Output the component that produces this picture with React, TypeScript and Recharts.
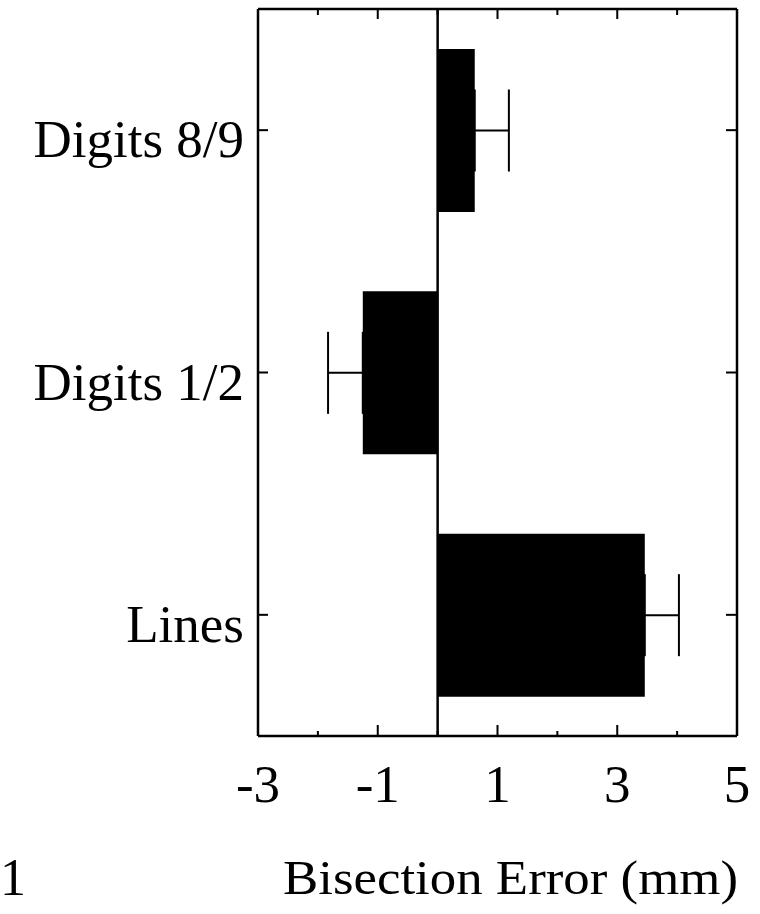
import React from 'react';
import { BarChart, Bar, XAxis, YAxis, ErrorBar, ReferenceLine } from 'recharts';

const categories = ['Digits 8/9', 'Digits 1/2', 'Lines'];
const meanError = [0.62, -1.25, 3.46];
const errLow = [0, 0.58, 0];
const errHigh = [0.57, 0, 0.57];
const xTicks = [-3, -2, -1, 0, 1, 2, 3, 4, 5];
const labeledTicks = [-3, -1, 1, 3, 5];
const axisTitle = 'Bisection Error (mm)';
const figureNumber = '1';

const data = categories.map((name, i) => ({
  name,
  value: meanError[i],
  err: [errLow[i], errHigh[i]],
}));

const FONT = "'Liberation Serif', 'Times New Roman', serif";

const BottomTick = (props: any) => {
  const { x, y, payload } = props;
  const major = labeledTicks.includes(payload.value);
  const len = major ? 11 : 5;
  return (
    <g>
      <line x1={x} x2={x} y1={y} y2={y - len} stroke="#000" strokeWidth={2} />
      {major && (
        <text x={x} y={y + 66} textAnchor="middle" fontFamily={FONT} fontSize={53} fill="#000">
          {String(payload.value)}
        </text>
      )}
    </g>
  );
};

const TopTick = (props: any) => {
  const { x, y, payload } = props;
  const major = labeledTicks.includes(payload.value);
  const len = major ? 10 : 6;
  return <line x1={x} x2={x} y1={y} y2={y + len} stroke="#000" strokeWidth={2} />;
};

const LeftTick = (props: any) => {
  const { x, y, payload } = props;
  return (
    <g>
      <line x1={x} x2={x + 10} y1={y} y2={y} stroke="#000" strokeWidth={2} />
      <text x={x - 14} y={y + 27} textAnchor="end" fontFamily={FONT} fontSize={53} fill="#000">
        {payload.value}
      </text>
    </g>
  );
};

const RightTick = (props: any) => {
  const { x, y } = props;
  return <line x1={x} x2={x - 11} y1={y} y2={y} stroke="#000" strokeWidth={2} />;
};

const TitleLabel = (props: any) => {
  const vb = props.viewBox || { x: 258, y: 736, width: 479, height: 178 };
  return (
    <g>
      <text
        x={vb.x + 25}
        y={vb.y + 158}
        textAnchor="start"
        fontFamily={FONT}
        fontSize={48}
        textLength={455}
        lengthAdjust="spacingAndGlyphs"
        fill="#000"
      >
        {axisTitle}
      </text>
      <text x={0} y={vb.y + 159} fontFamily={FONT} fontSize={52} fill="#000">
        {figureNumber}
      </text>
    </g>
  );
};

export default function App() {
  return (
    <div style={{ position: 'absolute', left: 0, top: 0, width: 760, height: 914, background: '#fff' }}>
      <BarChart
        layout="vertical"
        width={760}
        height={914}
        data={data}
        margin={{ top: 8, right: 22, bottom: 0, left: 0 }}
      >
        <XAxis
          xAxisId="bottom"
          type="number"
          orientation="bottom"
          domain={[-3, 5]}
          ticks={xTicks}
          interval={0}
          allowDataOverflow
          height={178}
          tickSize={0}
          tickMargin={0}
          tickLine={false}
          axisLine={{ stroke: '#000', strokeWidth: 2.5 }}
          tick={<BottomTick />}
          label={{ content: (p: any) => <TitleLabel {...p} /> }}
        />
        <XAxis
          xAxisId="top"
          type="number"
          orientation="top"
          domain={[-3, 5]}
          ticks={xTicks}
          interval={0}
          allowDataOverflow
          height={1}
          tickSize={0}
          tickMargin={0}
          tickLine={false}
          axisLine={{ stroke: '#000', strokeWidth: 2.5 }}
          tick={<TopTick />}
        />
        <YAxis
          yAxisId="left"
          type="category"
          dataKey="name"
          orientation="left"
          width={258}
          tickSize={0}
          tickMargin={0}
          tickLine={false}
          interval={0}
          axisLine={{ stroke: '#000', strokeWidth: 2.5 }}
          tick={<LeftTick />}
        />
        <YAxis
          yAxisId="right"
          type="category"
          dataKey="name"
          orientation="right"
          width={1}
          tickSize={0}
          tickMargin={0}
          tickLine={false}
          interval={0}
          axisLine={{ stroke: '#000', strokeWidth: 2.5 }}
          tick={<RightTick />}
        />
        <Bar
          xAxisId="bottom"
          yAxisId="left"
          dataKey="value"
          fill="#000"
          barSize={163}
          isAnimationActive={false}
        >
          <ErrorBar dataKey="err" direction="x" width={41} stroke="#000" strokeWidth={2} />
        </Bar>
        <ReferenceLine x={0} xAxisId="bottom" yAxisId="left" stroke="#000" strokeWidth={2.5} />
      </BarChart>
    </div>
  );
}
